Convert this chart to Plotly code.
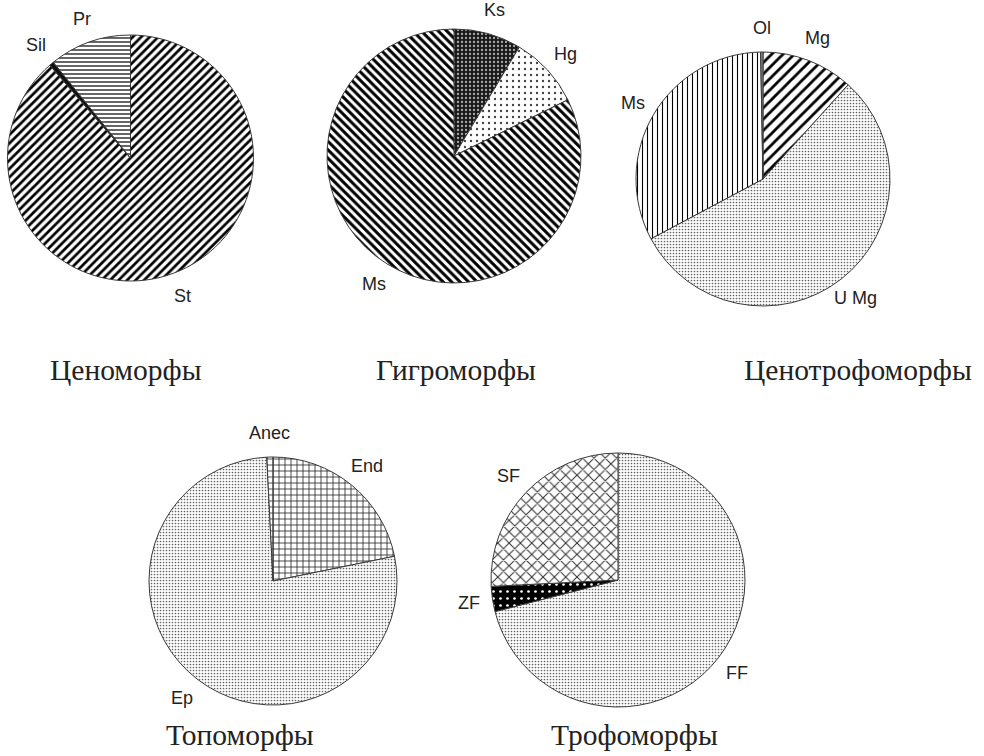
import math
import plotly.graph_objects as go

W, H = 984, 756

# ---- data ----
ceno_labels = ["St", "Sil", "Pr"]
ceno_values = [88.6, 0.6, 10.8]

hygro_labels = ["Ks", "Hg", "Ms"]
hygro_values = [8.6, 9.1, 82.3]

cenotroph_labels = ["Mg", "U Mg", "Ms", "Ol"]
cenotroph_values = [11.7, 55.5, 32.5, 0.3]

topo_labels = ["End", "Ep", "Anec"]
topo_values = [21.8, 77.4, 0.8]

tropho_labels = ["FF", "ZF", "SF"]
tropho_values = [71.0, 3.2, 25.8]

titles = ["Ценоморфы", "Гигроморфы", "Ценотрофоморфы", "Топоморфы", "Трофоморфы"]

# ---- styling / layout ----
STIPPLE = dict(shape=".", size=3, solidity=0.25, fg="#666", bg="white")
patterns = {
    "ceno": [
        dict(shape="/", size=6, solidity=0.45, fg="black", bg="white"),
        dict(shape="", size=6, solidity=0.5, fg="black", bg="#111"),
        dict(shape="-", size=4, solidity=0.3, fg="black", bg="white"),
    ],
    "hygro": [
        dict(shape=".", size=4, solidity=0.25, fg="#aaa", bg="#1a1a1a"),
        dict(shape=".", size=6, solidity=0.12, fg="#444", bg="white"),
        dict(shape="\\", size=6, solidity=0.5, fg="black", bg="white"),
    ],
    "cenotroph": [
        dict(shape="/", size=8, solidity=0.35, fg="black", bg="white"),
        STIPPLE,
        dict(shape="|", size=5, solidity=0.22, fg="black", bg="white"),
        dict(shape="", size=4, solidity=0.5, fg="#777", bg="#888"),
    ],
    "topo": [
        dict(shape="+", size=6, solidity=0.25, fg="#222", bg="white"),
        STIPPLE,
        dict(shape="+", size=6, solidity=0.25, fg="#222", bg="white"),
    ],
    "tropho": [
        STIPPLE,
        dict(shape=".", size=7, solidity=0.12, fg="white", bg="black"),
        dict(shape="x", size=8, solidity=0.25, fg="#333", bg="white"),
    ],
}

pies = [
    ("ceno", ceno_labels, ceno_values, (130.5, 158), 123),
    ("hygro", hygro_labels, hygro_values, (454, 156), 127),
    ("cenotroph", cenotroph_labels, cenotroph_values, (763, 179), 127),
    ("topo", topo_labels, topo_values, (273, 581), 124),
    ("tropho", tropho_labels, tropho_values, (618, 580), 127),
]
title_pos = [(126, 370), (456, 370), (858, 370), (240, 735), (634, 735)]

fig = go.Figure()
annotations = []
for key, labels, values, (cx, cy), r in pies:
    pats = patterns[key]
    fig.add_trace(go.Pie(
        labels=labels, values=values, sort=False, direction="clockwise",
        rotation=0, textinfo="none", hoverinfo="label+value", showlegend=False,
        domain=dict(x=[(cx - r) / W, (cx + r) / W],
                    y=[1 - (cy + r) / H, 1 - (cy - r) / H]),
        marker=dict(
            colors=[p["bg"] for p in pats],
            line=dict(color="#3a3a3a", width=1),
            pattern=dict(
                shape=[p["shape"] for p in pats],
                size=[p["size"] for p in pats],
                solidity=[p["solidity"] for p in pats],
                fgcolor=[p["fg"] for p in pats],
                bgcolor=[p["bg"] for p in pats],
                fillmode="replace",
            ),
        ),
    ))
    total = sum(values)
    acc = 0.0
    for lab, v in zip(labels, values):
        mid = (acc + v / 2) / total * 2 * math.pi
        acc += v
        d = r + 24
        x = cx + d * math.sin(mid)
        y = cy - d * math.cos(mid)
        annotations.append(dict(
            x=x / W, y=1 - y / H, xref="paper", yref="paper", text=lab,
            showarrow=False, xanchor="center", yanchor="middle",
            font=dict(family="Liberation Sans, Arial, sans-serif", size=18, color="#222"),
        ))

for t, (tx, ty) in zip(titles, title_pos):
    annotations.append(dict(
        x=tx / W, y=1 - ty / H, xref="paper", yref="paper", text=t,
        showarrow=False, xanchor="center", yanchor="middle",
        font=dict(family="Liberation Serif, Times New Roman, serif", size=29.5, color="#222"),
    ))

fig.update_layout(
    width=W, height=H, margin=dict(l=0, r=0, t=0, b=0),
    paper_bgcolor="white", plot_bgcolor="white",
    annotations=annotations,
)
fig.write_html(
    "out.html",
    config={"displayModeBar": False},
    post_script="document.body.style.margin='0';document.body.style.overflow='hidden';",
)
